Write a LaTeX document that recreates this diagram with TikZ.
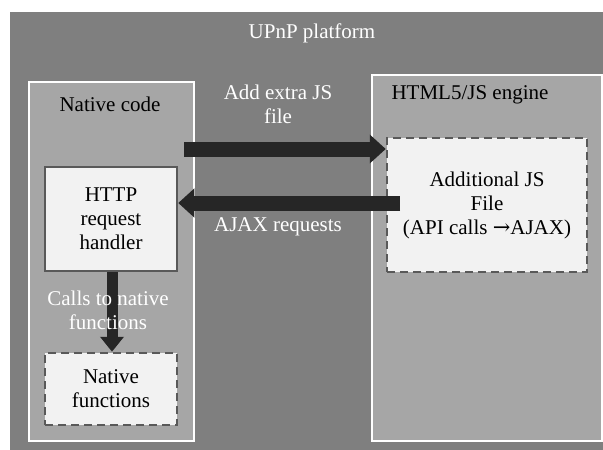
\documentclass[tikz,border=0pt]{standalone}
\usepackage{fontspec}
\setmainfont{Liberation Serif}
\newfontfamily\timesfont{Liberation Serif}
\newfontfamily\arrowfont{DejaVu Serif}
\usetikzlibrary{arrows.meta}
\definecolor{platgray}{HTML}{7F7F7F}
\definecolor{midgray}{HTML}{A6A6A6}
\definecolor{lightbox}{HTML}{F2F2F2}
\definecolor{boxedge}{HTML}{595959}
\definecolor{arrowcol}{HTML}{262626}
\tikzset{
  region/.style={draw=white, line width=2pt, fill=midgray},
  solidbox/.style={draw=boxedge, line width=2.5pt, fill=lightbox, align=center, font=\timesfont\fontsize{21}{24}\selectfont, inner sep=0pt},
  dashbox/.style={solidbox, dash pattern=on 8pt off 5pt},
  whitelbl/.style={text=white, align=center, font=\timesfont\fontsize{21}{24}\selectfont},
  blacklbl/.style={text=black, align=center, font=\timesfont\fontsize{21}{24}\selectfont},
  fatarrow/.style={draw=arrowcol, line width=15pt, -{Triangle[length=16pt,width=28pt]}},
  slimarrow/.style={draw=arrowcol, line width=11pt, -{Triangle[length=15pt,width=23pt]}}
}
\begin{document}
\begin{tikzpicture}[x=1pt,y=-1pt]
\useasboundingbox (0,0) rectangle (603,450);
\fill[white] (0,0) rectangle (603,450);
% platform
\node[fill=platgray, minimum width=593pt, minimum height=438pt, inner sep=0pt, anchor=north west] (plat) at (10,12) {};
\node[whitelbl] (platlbl) at (312,33) {UPnP platform};
% regions
\node[region, minimum width=165pt, minimum height=359pt, inner sep=0pt, anchor=north west] (native) at (28,81) {};
\node[region, minimum width=230pt, minimum height=366pt, inner sep=0pt, anchor=north west] (html) at (371,74) {};
\node[blacklbl] (nativelbl) at (110,104) {Native code};
\node[blacklbl] (htmllbl) at (470,95) {HTML5/JS engine};
% inner boxes
\node[solidbox, minimum width=132pt, minimum height=104pt] (http) at (111,219) {HTTP\\request\\handler};
\node[dashbox, minimum width=132pt, minimum height=72pt] (nfun) at (111,389) {Native\\functions};
\node[dashbox, minimum width=200pt, minimum height=134pt] (addjs) at (487,205) {Additional JS\\File\\(API calls {\arrowfont\char"2192}AJAX)};
% connectors
\coordinate (a1s) at (184,149);
\coordinate (a2s) at (400,203);
\draw[fatarrow] (a1s) -- (addjs.west |- a1s);
\draw[fatarrow] (a2s) -- (http.east |- a2s);
\draw[slimarrow] ([xshift=1pt]http.south) -- ([xshift=1pt]nfun.north);
% labels
\node[whitelbl] (lbl1) at (278,104) {Add extra JS\\file};
\node[whitelbl] (lbl2) at (278,227) {AJAX requests};
\node[whitelbl] (lbl3) at (108,310) {Calls to native\\functions};
\end{tikzpicture}
\end{document}
